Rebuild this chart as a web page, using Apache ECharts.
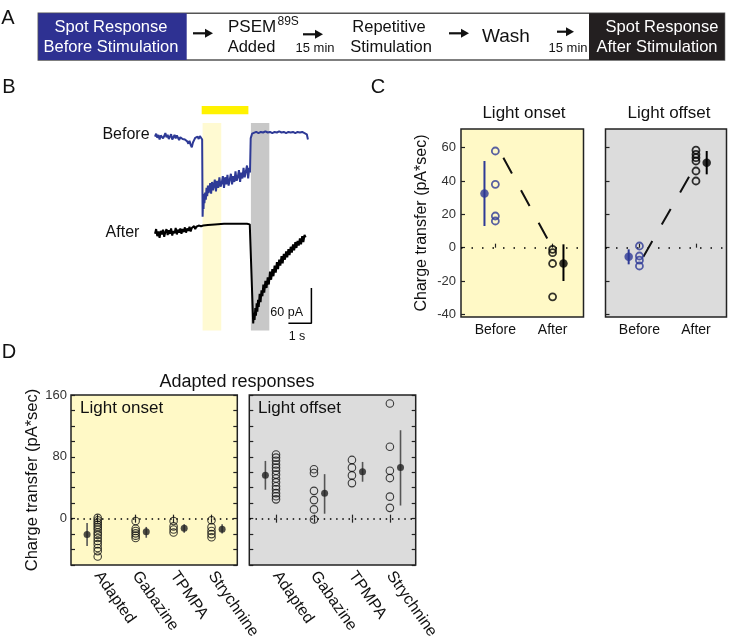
<!DOCTYPE html>
<html><head><meta charset="utf-8">
<script src="https://cdn.jsdelivr.net/npm/echarts@6/dist/echarts.min.js"></script>
<style>html,body{margin:0;padding:0;background:#fff}#c{width:729px;height:642px}</style>
</head><body><div id="c"></div><script>
// ---------- DATA ----------
// Panel B traces: [time (s), current (pA)]
const beforeTrace = [[0,-1],[0.05,4],[0.1,-3],[0.15,2],[0.2,-6],[0.25,1],[0.3,3],[0.35,-4],[0.4,0],[0.45,5],[0.5,-2],[0.55,2],[0.6,-5],[0.65,-1],[0.7,3],[0.75,-6],[0.8,-2],[0.85,2],[0.9,-4],[0.95,1],[1.0,-3],[1.05,-7],[1.1,-2],[1.15,1],[1.2,-5],[1.25,-2],[1.3,-6],[1.35,-3],[1.4,-9],[1.45,-13],[1.5,-8],[1.55,-15],[1.6,-19],[1.65,-11],[1.7,-7],[1.75,-3],[1.8,-6],[1.85,-1],[1.9,-5],[1.95,0],[2.0,-3],[2.05,-6],
  [2.07,-137],[2.09,-112],[2.11,-124],[2.13,-98],[2.15,-114],[2.18,-96],[2.21,-108],[2.24,-88],[2.27,-102],[2.3,-84],[2.33,-97],[2.36,-90],[2.4,-80],[2.44,-98],[2.48,-78],[2.52,-92],[2.56,-84],[2.6,-74],[2.65,-94],[2.7,-76],[2.75,-88],[2.8,-70],[2.85,-86],[2.9,-80],[2.95,-68],[3.0,-88],[3.05,-70],[3.1,-82],[3.15,-66],[3.2,-84],[3.25,-74],[3.3,-64],[3.35,-82],[3.4,-68],[3.45,-78],[3.5,-60],[3.55,-76],[3.6,-70],[3.65,-58],[3.7,-78],[3.75,-62],[3.8,-72],[3.85,-54],[3.9,-70],[3.95,-60],[4.0,-50],[4.05,-72],[4.1,-54],[4.13,-62],
  [4.16,-4],[4.22,4],[4.3,6],[4.4,7],[4.5,5],[4.6,7],[4.7,6],[4.8,8],[4.9,6],[5.0,7],[5.1,5],[5.2,7],[5.3,6],[5.4,8],[5.5,6],[5.6,7],[5.7,5],[5.8,7],[5.9,6],[6.0,7],[6.1,5],[6.2,7],[6.3,6],[6.4,7],[6.5,5],[6.55,6],[6.6,3],[6.65,-6]];
const afterTrace = [[0,-166],[0.05,-158],[0.1,-170],[0.15,-162],[0.2,-173],[0.25,-161],[0.3,-167],[0.35,-159],[0.4,-171],[0.45,-163],[0.5,-158],[0.55,-168],[0.6,-160],[0.65,-166],[0.7,-157],[0.75,-169],[0.8,-161],[0.85,-165],[0.9,-156],[0.95,-167],[1.0,-159],[1.05,-164],[1.1,-157],[1.15,-166],[1.2,-158],[1.25,-163],[1.3,-155],[1.35,-164],[1.4,-157],[1.45,-161],[1.5,-154],[1.55,-162],[1.6,-156],[1.65,-159],[1.7,-153],[1.75,-158],[1.8,-154],[1.85,-157],[1.9,-152],[1.95,-155],[2.0,-153],[2.1,-152],[2.3,-151],[2.6,-150],[3.0,-149],[3.5,-149],[4.0,-149],[4.12,-150],
  [4.27,-318],[4.3,-300],[4.33,-312],[4.36,-292],[4.39,-305],[4.42,-284],[4.45,-298],[4.48,-278],[4.51,-290],[4.55,-268],[4.59,-282],[4.63,-262],[4.67,-272],[4.71,-252],[4.75,-266],[4.8,-246],[4.85,-258],[4.9,-240],[4.95,-252],[5.0,-230],[5.05,-244],[5.1,-226],[5.15,-238],[5.2,-220],[5.25,-232],[5.3,-214],[5.35,-226],[5.4,-210],[5.45,-220],[5.5,-204],[5.55,-216],[5.6,-200],[5.65,-210],[5.7,-196],[5.75,-206],[5.8,-192],[5.85,-202],[5.9,-188],[5.95,-198],[6.0,-184],[6.05,-194],[6.1,-180],[6.15,-190],[6.2,-178],[6.25,-186],[6.3,-174],[6.35,-184],[6.4,-170],[6.45,-180],[6.5,-168],[6.55,-172]];
// [start s, end s, top pA, bottom pA]
const stimulusBar = [[2.03, 4.06, 51, 37]];
const onsetWindow = [[2.07, 2.88, 22, -330]];
const offsetWindow = [[4.17, 4.97, 22, -330]];
const scaleBar = [[6.8, -258], [6.8, -318], [5.8, -318]]; // 60 pA, 1 s

// Panel C
const cCategories = ['Before', 'After'];
const cTicks = [-40, -20, 0, 20, 40, 60];
const onsetBefore = [58, 38, 19, 16];
const onsetAfter = [-1, -3, -9.5, -29.5];
const onsetMean = [32.5, -9.5];
const onsetSpread = [[13, 52], [-20, 2]];
const onsetTrend = [[1.14, 54], [1.92, 4.6]];
const offsetBefore = [1, -5, -7.5, -11];
const offsetAfter = [58.5, 56, 54, 52, 46, 40];
const offsetMean = [-5.4, 51];
const offsetSpread = [[-10, -1], [44, 58]];
const offsetTrend = [[1.07, -5.4], [1.97, 48]];

// Panel D
const dCategories = ['Adapted', 'Gabazine', 'TPMPA', 'Strychnine'];
const dTickLabels = [0, 80, 160];
const dOnsetAdapted = [1, -2, -5, -8, -11, -14, -18, -21, -25, -29, -33, -38, -42, -49];
const dOnsetGabazine = [-3, -13, -16, -19, -22, -25];
const dOnsetTPMPA = [-3, -10, -14, -18];
const dOnsetStrychnine = [-2, -11, -16, -20, -24];
const dOnsetMean = [-20.5, -17, -12.4, -13.7];
const dOnsetSpread = [[-35.4, -5.5], [-24.7, -10.7], [-18.3, -7.3], [-19.2, -7.3]];
const dOffsetAdapted = [83, 79, 75, 70, 66, 62, 57, 52, 47, 42, 38, 33, 29, 25];
const dOffsetGabazine = [64, 59, 36, 24, 12, -1];
const dOffsetTPMPA = [76, 66, 56, 46];
const dOffsetStrychnine = [149, 93, 62, 52.5, 28.5, 14];
const dOffsetMean = [56.3, 32.9, 60.6, 66.2];
const dOffsetSpread = [[37.5, 74.7], [6.4, 57.6], [47.8, 73.4], [17, 114.4]];

// ---------- STYLE / LAYOUT ----------
const FF = '"Liberation Sans", Arial, Helvetica, sans-serif';
const BLUE = '#2e3a96';
const YEL_BG = '#fff9c6';
const GRAY_BG = '#dcdcdc';
const cMeanX = [0.81, 2.19];
const dMeanShift = [-0.28, 0.28, 0.28, 0.28];

function rectSeries(data, color, z) {
  return { type: 'custom', xAxisIndex: 0, yAxisIndex: 0, data, z, silent: true,
    renderItem: (p, api) => {
      const a = api.coord([api.value(0), api.value(2)]);
      const b = api.coord([api.value(1), api.value(3)]);
      return { type: 'rect', shape: { x: a[0], y: a[1], width: b[0] - a[0], height: b[1] - a[1] }, style: { fill: color } };
    } };
}
function errSeries(xi, yi, data, color, w) {
  return { type: 'custom', xAxisIndex: xi, yAxisIndex: yi, data, z: 3, silent: true,
    renderItem: (p, api) => {
      const a = api.coord([api.value(0), api.value(1)]);
      const b = api.coord([api.value(0), api.value(2)]);
      return { type: 'line', shape: { x1: a[0], y1: a[1], x2: b[0], y2: b[1] }, style: { stroke: color, lineWidth: w } };
    } };
}
function ringSeries(xi, yi, data, color, size, bw, zeroLine) {
  const s = { type: 'scatter', xAxisIndex: xi, yAxisIndex: yi, data, symbol: 'circle', symbolSize: size, z: 4,
    itemStyle: { color: 'rgba(0,0,0,0)', borderColor: color, borderWidth: bw }, silent: true };
  if (zeroLine) s.markLine = { silent: true, symbol: 'none', label: { show: false }, data: [{ yAxis: 0 }],
    lineStyle: { type: zeroLine, color: '#000', width: 1.5 }, z: 2 };
  return s;
}
function dotSeries(xi, yi, data, color, size) {
  return { type: 'scatter', xAxisIndex: xi, yAxisIndex: yi, data, symbol: 'circle', symbolSize: size, z: 5,
    itemStyle: { color }, silent: true };
}
function trendSeries(xi, yi, data) {
  return { type: 'line', xAxisIndex: xi, yAxisIndex: yi, data, symbol: 'none', z: 3, silent: true,
    lineStyle: { color: '#111', width: 2, type: [18, 19] } };
}

const tickStyle = { color: '#222', width: 1.2 };
function cX(grid) {
  return { type: 'value', gridIndex: grid, min: 0.4, max: 2.54, axisLine: { show: false }, splitLine: { show: false },
    axisTick: { show: true, inside: true, length: 4, customValues: [1, 2], lineStyle: tickStyle },
    axisLabel: { show: true, customValues: [1, 2], formatter: v => cCategories[Math.round(v) - 1], fontSize: 14, color: '#111', margin: 6, fontFamily: FF } };
}
function cY(grid, labels) {
  const ax = { type: 'value', gridIndex: grid, min: -41.6, max: 71.2, axisLine: { show: false }, splitLine: { show: false },
    axisTick: { show: true, inside: true, length: 4, customValues: cTicks, lineStyle: tickStyle },
    axisLabel: { show: labels, customValues: cTicks, fontSize: 13, color: '#333', margin: 5, fontFamily: FF } };
  if (labels) Object.assign(ax, { name: 'Charge transfer (pA*sec)', nameLocation: 'middle', nameGap: 31,
    nameTextStyle: { fontSize: 16, color: '#111', fontFamily: FF } });
  return ax;
}
function dX(grid, pos, labels) {
  return { type: 'value', gridIndex: grid, position: pos, min: 0.296, max: 4.68, axisLine: { show: false }, splitLine: { show: false },
    axisTick: { show: true, inside: true, length: 4, customValues: [1, 2, 3, 4], lineStyle: tickStyle },
    axisLabel: { show: labels, customValues: [1, 2, 3, 4], formatter: v => dCategories[Math.round(v) - 1], rotate: -55,
      fontSize: 16, color: '#111', margin: 8, fontFamily: FF } };
}
function dY(grid, pos, labels, named) {
  const ax = { type: 'value', gridIndex: grid, position: pos, min: -60, max: 160, interval: 20, axisLine: { show: false }, splitLine: { show: false },
    axisTick: { show: true, inside: true, length: 4, lineStyle: tickStyle },
    axisLabel: { show: labels, customValues: dTickLabels, fontSize: 13, color: '#333', margin: 4, fontFamily: FF } };
  if (named) Object.assign(ax, { name: 'Charge transfer (pA*sec)', nameLocation: 'middle', nameGap: 27,
    nameTextStyle: { fontSize: 16.5, color: '#111', fontFamily: FF } });
  return ax;
}
function cells(groups, shift) {
  const out = [];
  groups.forEach((g, i) => g.forEach(v => out.push([i + 1 + (shift ? shift[i] : 0), v])));
  return out;
}

// ---------- GRAPHIC (panel A diagram + text labels) ----------
function txt(x, y, text, size, opts) {
  return Object.assign({ type: 'text', x, y, silent: true, z: 10,
    style: Object.assign({ text, font: size + 'px ' + FF, fill: '#111', align: 'center', verticalAlign: 'middle',
      textAlign: 'center', textVerticalAlign: 'middle' }, (opts || {})) });
}
function arrow(x0, x1, y) {
  return [
    { type: 'line', silent: true, z: 10, shape: { x1: x0, y1: y, x2: x1 - 6, y2: y }, style: { stroke: '#111', lineWidth: 2.2 } },
    { type: 'polygon', silent: true, z: 10, shape: { points: [[x1 - 8, y - 4.5], [x1, y], [x1 - 8, y + 4.5]] }, style: { fill: '#111' } }
  ];
}
const graphics = [
  { type: 'rect', silent: true, z: 5, shape: { x: 38.3, y: 13.3, width: 686.2, height: 46.7 }, style: { fill: '#fff', stroke: '#555', lineWidth: 1.5 } },
  { type: 'rect', silent: true, z: 6, shape: { x: 38.3, y: 13.3, width: 148.4, height: 46.7 }, style: { fill: '#2e3192' } },
  { type: 'rect', silent: true, z: 6, shape: { x: 589, y: 13.3, width: 135.5, height: 46.7 }, style: { fill: '#231f20' } },
  txt(8, 18, 'A', 20),
  txt(111, 27, 'Spot Response', 16.5, { fill: '#fff' }),
  txt(111, 47, 'Before Stimulation', 16.5, { fill: '#fff' }),
  ...arrow(193, 213, 33.3),
  txt(228, 27.5, 'PSEM', 17, { align: 'left', textAlign: 'left' }),
  txt(277.5, 22, '89S', 12, { align: 'left', textAlign: 'left' }),
  txt(251.5, 47.5, 'Added', 16.5),
  ...arrow(303, 323, 34.3),
  txt(315, 48, '15 min', 13),
  txt(389, 27, 'Repetitive', 16.5),
  txt(391, 47, 'Stimulation', 16.5),
  ...arrow(449, 469, 33.3),
  txt(506, 37, 'Wash', 19),
  ...arrow(557, 574, 31.7),
  txt(568, 48, '15 min', 13),
  txt(662, 27, 'Spot Response', 16.5, { fill: '#fff' }),
  txt(657, 47, 'After Stimulation', 16.5, { fill: '#fff' }),
  txt(9, 87, 'B', 20),
  txt(126, 135, 'Before', 16),
  txt(122.5, 233, 'After', 16),
  txt(303, 313, '60 pA', 12.5, { align: 'right', textAlign: 'right' }),
  txt(297, 337, '1 s', 12.5),
  txt(378, 87, 'C', 20),
  txt(524, 113, 'Light onset', 17),
  txt(669, 113, 'Light offset', 17),
  txt(9, 352, 'D', 20),
  txt(237, 382, 'Adapted responses', 18),
  txt(80, 408, 'Light onset', 17, { align: 'left', textAlign: 'left' }),
  txt(258, 408, 'Light offset', 17, { align: 'left', textAlign: 'left' })
];

const option = {
  animation: false,
  backgroundColor: '#fff',
  textStyle: { fontFamily: FF },
  graphic: { elements: graphics },
  grid: [
    { left: 155, top: 100.7, width: 161, height: 241.5, show: false },
    { left: 461, top: 129, width: 122.5, height: 188, show: true, backgroundColor: YEL_BG, borderColor: '#222', borderWidth: 1.5 },
    { left: 605.5, top: 129, width: 121, height: 188, show: true, backgroundColor: GRAY_BG, borderColor: '#222', borderWidth: 1.5 },
    { left: 71, top: 395, width: 166.3, height: 171.7, show: true, backgroundColor: YEL_BG, borderColor: '#222', borderWidth: 1.5 },
    { left: 249.3, top: 395, width: 166.4, height: 171.7, show: true, backgroundColor: GRAY_BG, borderColor: '#222', borderWidth: 1.5 }
  ],
  xAxis: [
    { type: 'value', gridIndex: 0, min: 0, max: 7, show: false },
    cX(1), cX(2),
    dX(3, 'bottom', true), dX(3, 'top', false),
    dX(4, 'bottom', true), dX(4, 'top', false)
  ],
  yAxis: [
    { type: 'value', gridIndex: 0, min: -350, max: 60, show: false },
    cY(1, true), cY(2, false),
    dY(3, 'left', true, true), dY(3, 'right', false, false),
    dY(4, 'left', false, false), dY(4, 'right', false, false)
  ],
  series: [
    // Panel B
    rectSeries(onsetWindow, '#fffad2', 1),
    rectSeries(offsetWindow, '#c8c8c8', 1),
    rectSeries(stimulusBar, '#fff200', 1),
    { type: 'line', xAxisIndex: 0, yAxisIndex: 0, data: beforeTrace, symbol: 'none', z: 3, silent: true, lineStyle: { color: BLUE, width: 2 } },
    { type: 'line', xAxisIndex: 0, yAxisIndex: 0, data: afterTrace, symbol: 'none', z: 3, silent: true, lineStyle: { color: '#000', width: 2 } },
    { type: 'line', xAxisIndex: 0, yAxisIndex: 0, data: scaleBar, symbol: 'none', z: 3, silent: true, lineStyle: { color: '#000', width: 1.5 } },
    // Panel C onset
    ringSeries(1, 1, onsetBefore.map(v => [1, v]), BLUE, 7, 1.8, [1.5, 9]),
    ringSeries(1, 1, onsetAfter.map(v => [2, v]), '#000', 7, 1.8),
    trendSeries(1, 1, onsetTrend),
    errSeries(1, 1, [[cMeanX[0], onsetSpread[0][0], onsetSpread[0][1]]], BLUE, 2),
    errSeries(1, 1, [[cMeanX[1], onsetSpread[1][0], onsetSpread[1][1]]], '#000', 2),
    dotSeries(1, 1, [[cMeanX[0], onsetMean[0]]], BLUE, 8.5),
    dotSeries(1, 1, [[cMeanX[1], onsetMean[1]]], '#000', 8.5),
    // Panel C offset
    ringSeries(2, 2, offsetBefore.map(v => [1, v]), BLUE, 7, 1.8, [1.5, 9]),
    ringSeries(2, 2, offsetAfter.map(v => [2, v]), '#000', 7, 1.8),
    trendSeries(2, 2, offsetTrend),
    errSeries(2, 2, [[cMeanX[0], offsetSpread[0][0], offsetSpread[0][1]]], BLUE, 2),
    errSeries(2, 2, [[cMeanX[1], offsetSpread[1][0], offsetSpread[1][1]]], '#000', 2),
    dotSeries(2, 2, [[cMeanX[0], offsetMean[0]]], BLUE, 8.5),
    dotSeries(2, 2, [[cMeanX[1], offsetMean[1]]], '#000', 8.5),
    // Panel D onset
    ringSeries(3, 3, cells([dOnsetAdapted, dOnsetGabazine, dOnsetTPMPA, dOnsetStrychnine]), '#111', 7.5, 1.1, [1.5, 4.7]),
    errSeries(3, 3, dOnsetSpread.map((s, i) => [i + 1 + dMeanShift[i], s[0], s[1]]), '#555', 1.6),
    dotSeries(3, 3, dOnsetMean.map((v, i) => [i + 1 + dMeanShift[i], v]), '#222', 7),
    // Panel D offset
    ringSeries(5, 5, cells([dOffsetAdapted, dOffsetGabazine, dOffsetTPMPA, dOffsetStrychnine]), '#111', 7.5, 1.1, [1.5, 4.7]),
    errSeries(5, 5, dOffsetSpread.map((s, i) => [i + 1 + dMeanShift[i], s[0], s[1]]), '#555', 1.6),
    dotSeries(5, 5, dOffsetMean.map((v, i) => [i + 1 + dMeanShift[i], v]), '#222', 7)
  ]
};
const chart = echarts.init(document.getElementById('c'), null, { renderer: 'canvas' });
chart.setOption(option);
</script></body></html>
